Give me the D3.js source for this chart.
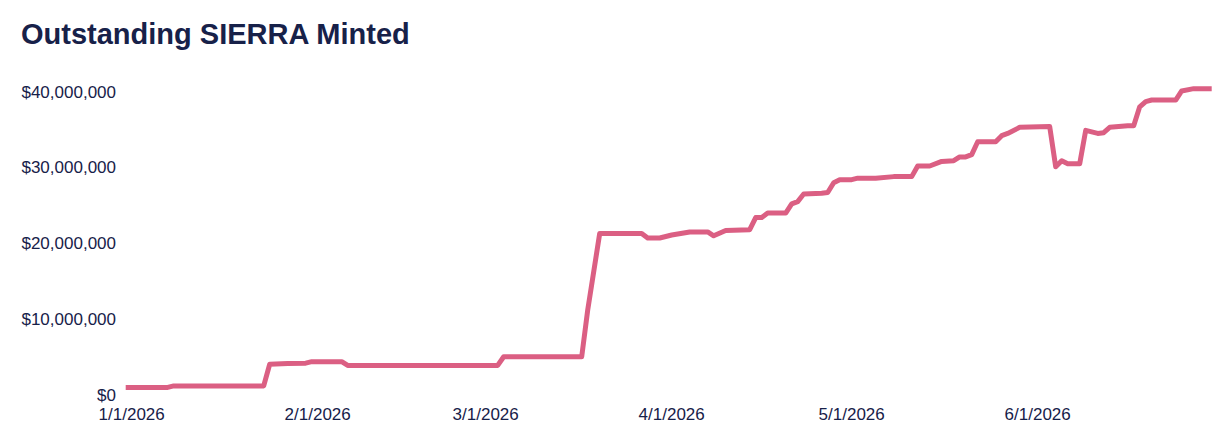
<!DOCTYPE html>
<html>
<head>
<meta charset="utf-8">
<script src="https://cdn.jsdelivr.net/npm/d3@7"></script>
<style>
  html, body { margin: 0; padding: 0; background: #fff; }
  svg { display: block; }
</style>
</head>
<body>
<svg id="chart" width="1228" height="446"></svg>
<script>
(function() {

  // Data: days since 1/1/2026 and outstanding amount (millions of $)
  const dayOffsets = [
    -1, 6, 7, 22, 23, 26, 29, 30, 35, 36,
    61, 62, 75, 76, 78, 85, 86, 88, 90, 93,
    96, 97, 99, 103, 104, 105, 106, 109, 110, 111,
    112, 115, 116, 117, 118, 120, 121, 124, 127, 130,
    131, 133, 135, 137, 138, 139, 140, 141, 144, 145,
    146, 148, 153, 154, 155, 156, 158, 159, 161, 162,
    163, 166, 167, 168, 169, 170, 174, 175, 177, 180
  ];
  const mintedMillions = [
    1.0, 1.0, 1.2, 1.2, 4.05, 4.17, 4.2, 4.4, 4.4, 3.9,
    3.9, 5.05, 5.05, 11.2, 21.3, 21.3, 20.7, 20.7, 21.1, 21.5,
    21.5, 21.0, 21.7, 21.8, 23.4, 23.4, 24.0, 24.0, 25.2, 25.5,
    26.5, 26.6, 26.7, 28.0, 28.4, 28.4, 28.6, 28.6, 28.8, 28.8,
    30.2, 30.2, 30.8, 30.9, 31.4, 31.4, 31.7, 33.4, 33.4, 34.2,
    34.5, 35.3, 35.4, 30.1, 30.9, 30.5, 30.5, 34.9, 34.5, 34.6,
    35.3, 35.5, 35.5, 38.0, 38.7, 38.9, 38.9, 40.1, 40.4, 40.4
  ];
  const yTicks = [0, 10000000, 20000000, 30000000, 40000000];
  const xTickLabels = ["1/1/2026", "2/1/2026", "3/1/2026", "4/1/2026", "5/1/2026", "6/1/2026"];

  const INK = "#172149";
  const PINK = "#db5f83";

  const start = new Date(2026, 0, 1);
  const dayMs = 24 * 60 * 60 * 1000;
  const data = dayOffsets.map((d, i) => ({
    date: new Date(start.getTime() + d * dayMs),
    value: mintedMillions[i] * 1e6
  }));

  const svg = d3.select("#chart");

  // Scales
  const x = d3.scaleTime()
    .domain([new Date(2025, 11, 31), new Date(2026, 5, 30)])
    .range([125.7, 1211.7]);
  const y = d3.scaleLinear()
    .domain([0, 40000000])
    .range([395, 91.7]);

  // Title
  svg.append("text")
    .attr("x", 21).attr("y", 44)
    .attr("font-family", "Liberation Sans, Arial, sans-serif")
    .attr("font-size", 29)
    .attr("font-weight", 700)
    .attr("fill", INK)
    .text("Outstanding SIERRA Minted");

  // Y axis labels (no line, no grid)
  const fmt = d3.format("$,.0f");
  svg.append("g")
    .selectAll("text")
    .data(yTicks)
    .join("text")
    .attr("x", 116)
    .attr("y", d => y(d))
    .attr("dy", "0.35em")
    .attr("text-anchor", "end")
    .attr("font-family", "Liberation Sans, Arial, sans-serif")
    .attr("font-size", 17)
    .attr("fill", INK)
    .text(d => fmt(d));

  // X axis labels at month starts
  const monthStarts = xTickLabels.map((_, i) => new Date(2026, i, 1));
  svg.append("g")
    .selectAll("text")
    .data(monthStarts)
    .join("text")
    .attr("x", d => x(d))
    .attr("y", 420)
    .attr("text-anchor", "middle")
    .attr("font-family", "Liberation Sans, Arial, sans-serif")
    .attr("font-size", 17)
    .attr("fill", INK)
    .text((d, i) => xTickLabels[i]);

  // Line
  const line = d3.line()
    .x(d => x(d.date))
    .y(d => y(d.value));

  svg.append("path")
    .datum(data)
    .attr("d", line)
    .attr("fill", "none")
    .attr("stroke", PINK)
    .attr("stroke-width", 5)
    .attr("stroke-linejoin", "round");
})();
</script>
</body>
</html>
